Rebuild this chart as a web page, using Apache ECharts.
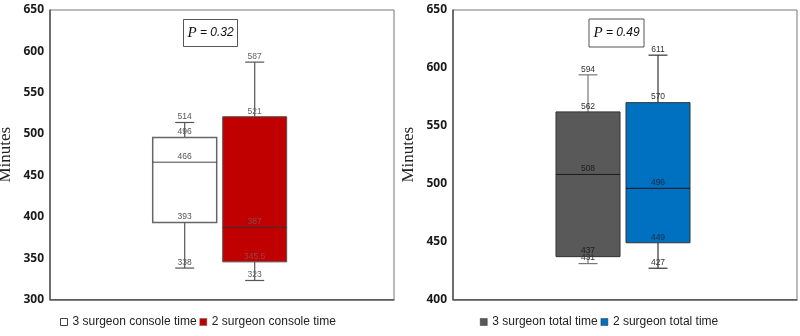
<!DOCTYPE html>
<html>
<head>
<meta charset="utf-8">
<title>Console and total time</title>
<script src="https://cdn.jsdelivr.net/npm/echarts@6/dist/echarts.min.js"></script>
<style>
  html, body { margin: 0; padding: 0; background: #fff; }
  #chart { width: 800px; height: 336px; }
</style>
</head>
<body>
<div id="chart"></div>
<script>
// box stats are [min, Q1, median, Q3, max]
const consoleGroups = ['3 surgeon console time', '2 surgeon console time'];
const console3 = [338, 393, 466, 496, 514];
const console2 = [323, 345.5, 387, 521, 587];
const consoleTicks = [300, 350, 400, 450, 500, 550, 600, 650];
const consoleP = '0.32';

const totalGroups = ['3 surgeon total time', '2 surgeon total time'];
const total3 = [431, 437, 508, 562, 594];
const total2 = [427, 449, 496, 570, 611];
const totalTicks = [400, 450, 500, 550, 600, 650];
const totalP = '0.49';

const chart = echarts.init(document.getElementById('chart'));

// colours for each box
const looks = {
  console3: { fill: '#ffffff', border: '#666', borderWidth: 1.5, median: '#444', whisker: '#555', outer: '#555', inner: '#555' },
  console2: { fill: '#c00000', border: '#555', borderWidth: 1, median: '#333', whisker: '#555', outer: '#666', inner: '#8a4848' },
  total3: { fill: '#595959', border: '#333', borderWidth: 1, median: '#1a1a1a', whisker: '#777', outer: '#333', inner: '#1e1e1e' },
  total2: { fill: '#0070c0', border: '#333', borderWidth: 1, median: '#1a1a1a', whisker: '#333', outer: '#333', inner: '#1b2e45' }
};

const BOX_W = 64;
const CAP_W = 19;

// draws one box with whiskers and the value labels
const boxRenderer = (look) => (params, api) => {
  const idx = api.value(0);
  const vals = [1, 2, 3, 4, 5].map(i => api.value(i));
  const ys = vals.map(v => api.coord([idx, v])[1]);
  const cx = api.coord([idx, vals[0]])[0];
  const half = BOX_W / 2;
  const whisker = { stroke: look.whisker, lineWidth: 1.2 };
  const children = [
    { type: 'line', shape: { x1: cx, y1: ys[0], x2: cx, y2: ys[1] }, style: whisker },
    { type: 'line', shape: { x1: cx, y1: ys[3], x2: cx, y2: ys[4] }, style: whisker },
    { type: 'line', shape: { x1: cx - CAP_W / 2, y1: ys[0], x2: cx + CAP_W / 2, y2: ys[0] }, style: whisker },
    { type: 'line', shape: { x1: cx - CAP_W / 2, y1: ys[4], x2: cx + CAP_W / 2, y2: ys[4] }, style: whisker },
    {
      type: 'rect',
      shape: { x: cx - half, y: ys[3], width: BOX_W, height: ys[1] - ys[3] },
      style: { fill: look.fill, stroke: look.border, lineWidth: look.borderWidth }
    },
    { type: 'line', shape: { x1: cx - half, y1: ys[2], x2: cx + half, y2: ys[2] }, style: { stroke: look.median, lineWidth: 1 } }
  ];
  vals.forEach((v, i) => {
    children.push({
      type: 'text',
      style: {
        text: String(v),
        x: cx,
        y: ys[i] - 1,
        align: 'center',
        verticalAlign: 'bottom',
        fontSize: 8.5,
        fontFamily: 'Liberation Sans',
        fill: (i === 1 || i === 2) ? look.inner : look.outer
      }
    });
  });
  return { type: 'group', children: children };
};

const boxSeries = (name, stats, catIdx, axisIdx, look) => ({
  type: 'custom',
  name: name,
  xAxisIndex: axisIdx,
  yAxisIndex: axisIdx,
  itemStyle: { color: look.fill },
  encode: { x: 0, y: [1, 2, 3, 4, 5] },
  data: [[catIdx].concat(stats)],
  renderItem: boxRenderer(look),
  silent: true
});

const frameYAxis = (ticks, gridIdx) => ({
  type: 'value',
  gridIndex: gridIdx,
  min: ticks[0],
  max: ticks[ticks.length - 1],
  interval: ticks[1] - ticks[0],
  name: 'Minutes',
  nameLocation: 'middle',
  nameGap: 36,
  nameTextStyle: { fontFamily: 'Liberation Serif', fontSize: 17, color: '#222' },
  axisLine: { show: true, lineStyle: { color: '#555', width: 1.5 } },
  axisTick: { show: false },
  splitLine: { show: false },
  axisLabel: { margin: 6, fontFamily: 'Open Sans', fontWeight: 'bold', fontSize: 12, color: '#1a1a1a' }
});

const innerYAxis = (ticks, gridIdx) => ({
  type: 'value',
  gridIndex: gridIdx,
  min: ticks[0],
  max: ticks[ticks.length - 1],
  show: false
});

const frameXAxis = (gridIdx) => ({
  type: 'value',
  gridIndex: gridIdx,
  min: 0,
  max: 1,
  axisLine: { show: true, onZero: false, lineStyle: { color: '#555', width: 1.5 } },
  axisTick: { show: false },
  axisLabel: { show: false },
  splitLine: { show: false }
});

const innerXAxis = (groups, gridIdx) => ({
  type: 'category',
  gridIndex: gridIdx,
  data: groups,
  show: false
});

const pBox = (x, y, w, h, p) => ({
  type: 'group',
  left: x,
  top: y,
  children: [
    { type: 'rect', shape: { x: 0, y: 0, width: w, height: h }, style: { fill: '#fff', stroke: '#555', lineWidth: 1 } },
    {
      type: 'text',
      x: w / 2,
      y: h / 2,
      style: {
        text: '{p|P} {v|= ' + p + '}',
        align: 'center',
        verticalAlign: 'middle',
        rich: {
          p: { fontFamily: 'Liberation Serif', fontStyle: 'italic', fontSize: 15, fill: '#111' },
          v: { fontFamily: 'Liberation Sans', fontStyle: 'italic', fontSize: 12, fill: '#111' }
        }
      }
    }
  ]
});

const legendFor = (groups, left, styles) => ({
  data: groups.map((g, i) => ({ name: g, itemStyle: styles[i] })),
  left: left,
  top: 316,
  padding: 0,
  itemGap: 3,
  itemWidth: 7,
  itemHeight: 7,
  icon: 'rect',
  selectedMode: false,
  textStyle: { fontFamily: 'Liberation Sans', fontSize: 12, color: '#222' }
});

const gridBase = { top: 10, height: 289.5, outerBoundsMode: 'none', containLabel: false };

chart.setOption({
  animation: false,
  grid: [
    Object.assign({ left: 50, width: 344, show: true, borderColor: '#777', borderWidth: 1 }, gridBase),
    Object.assign({ left: 149.7, width: 140 }, gridBase),
    Object.assign({ left: 453, width: 344, show: true, borderColor: '#777', borderWidth: 1 }, gridBase),
    Object.assign({ left: 553, width: 140 }, gridBase)
  ],
  xAxis: [
    frameXAxis(0),
    innerXAxis(consoleGroups, 1),
    frameXAxis(2),
    innerXAxis(totalGroups, 3)
  ],
  yAxis: [
    frameYAxis(consoleTicks, 0),
    innerYAxis(consoleTicks, 1),
    frameYAxis(totalTicks, 2),
    innerYAxis(totalTicks, 3)
  ],
  legend: [
    legendFor(consoleGroups, 60, [
      { color: '#fff', borderColor: '#444', borderWidth: 1 },
      { color: '#c00000', borderColor: '#555', borderWidth: 0.5 }
    ]),
    legendFor(totalGroups, 480, [
      { color: '#595959', borderColor: '#333', borderWidth: 0.5 },
      { color: '#0070c0', borderColor: '#333', borderWidth: 0.5 }
    ])
  ],
  graphic: [
    pBox(183, 19, 54, 27, consoleP),
    pBox(588.5, 18.5, 55, 28, totalP)
  ],
  series: [
    boxSeries(consoleGroups[0], console3, 0, 1, looks.console3),
    boxSeries(consoleGroups[1], console2, 1, 1, looks.console2),
    boxSeries(totalGroups[0], total3, 0, 3, looks.total3),
    boxSeries(totalGroups[1], total2, 1, 3, looks.total2)
  ]
});

window.addEventListener('resize', () => chart.resize());
</script>
</body>
</html>
